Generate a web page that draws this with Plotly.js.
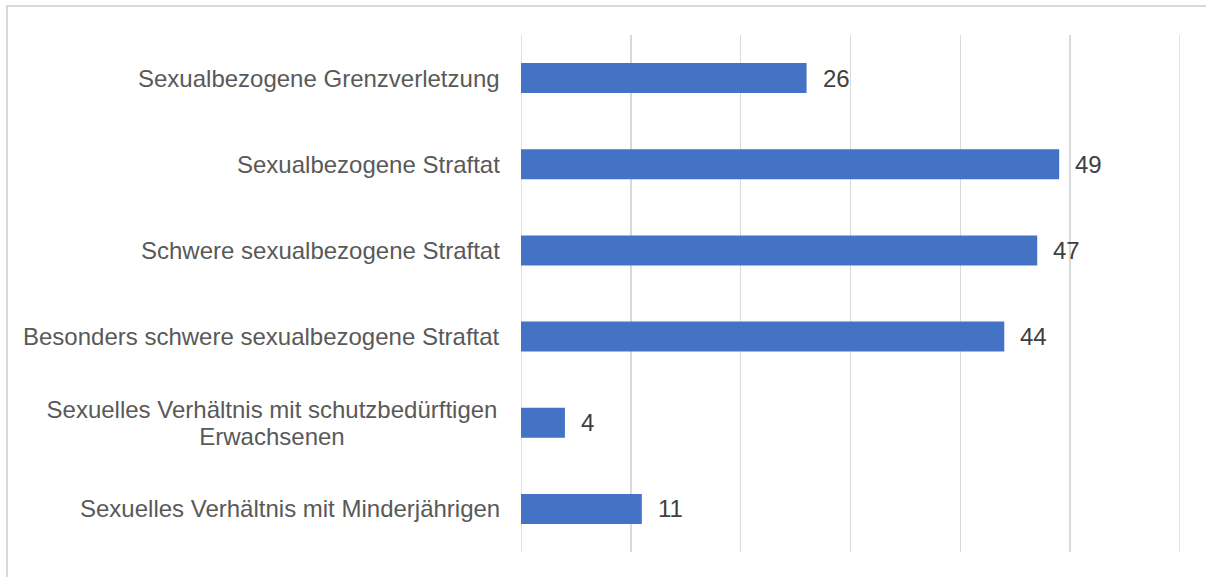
<!DOCTYPE html>
<html>
<head>
<meta charset="utf-8">
<script src="https://cdn.plot.ly/plotly-3.0.1.min.js"></script>
<style>
  html, body { margin: 0; padding: 0; background: #ffffff; overflow: hidden; }
  #chart { position: absolute; left: 0; top: 0; width: 1206px; height: 577px; }
  #frame { position: absolute; left: 6px; top: 5px; width: 1400px; height: 800px;
           border-left: 2px solid #d9d9d9; border-top: 2px solid #d9d9d9; pointer-events: none; }
</style>
</head>
<body>
<div id="chart"></div>
<div id="frame"></div>
<script>
const categories = [
  "Sexualbezogene Grenzverletzung",
  "Sexualbezogene Straftat",
  "Schwere sexualbezogene Straftat",
  "Besonders schwere sexualbezogene Straftat",
  "Sexuelles Verhältnis mit schutzbedürftigen<br>Erwachsenen",
  "Sexuelles Verhältnis mit Minderjährigen"
];
const values = [26, 49, 47, 44, 4, 11];
const xTicks = [0, 10, 20, 30, 40, 50, 60];

const font = "Liberation Sans, Arial, sans-serif";
const fontSize = 24;
const lineStep = 27;

const trace = {
  type: "bar",
  orientation: "h",
  x: values,
  y: categories,
  marker: { color: "#4472C4" },
  hoverinfo: "none"
};

const labelAnnotations = [];
categories.forEach(c => {
  const lines = c.split("<br>");
  lines.forEach((line, k) => {
    labelAnnotations.push({
      xref: "paper", yref: "y", x: 0, y: c,
      xanchor: "right", yanchor: "middle", xshift: -19,
      yshift: ((lines.length - 1) / 2 - k) * lineStep,
      text: line, showarrow: false, align: "center",
      width: lines.length > 1 ? 456 : null,
      font: { family: font, size: fontSize, color: "#595959" }
    });
  });
});

const valueAnnotations = values.map((v, i) => ({
  xref: "x", yref: "y", x: v, y: categories[i],
  xanchor: "left", yanchor: "middle", xshift: 14,
  text: String(v), showarrow: false,
  font: { family: font, size: fontSize, color: "#404040" }
}));

const edgeGrid = [xTicks[0], xTicks[xTicks.length - 1]].map(v => ({
  type: "line", xref: "x", yref: "paper", x0: v, x1: v, y0: 0, y1: 1,
  line: { color: "#d9d9d9", width: 1.5 }, layer: "below"
}));

const layout = {
  width: 1206, height: 577,
  margin: { l: 521, r: 26, t: 35, b: 25, pad: 0 },
  paper_bgcolor: "#ffffff", plot_bgcolor: "#ffffff",
  bargap: 0.652,
  showlegend: false,
  xaxis: {
    range: [0, 60], tickvals: xTicks, showticklabels: false,
    showgrid: true, gridcolor: "#d9d9d9", gridwidth: 1.5,
    zeroline: false, showline: false, ticks: "", fixedrange: true
  },
  yaxis: {
    autorange: "reversed", showticklabels: false, ticks: "",
    showgrid: false, zeroline: false, showline: false, fixedrange: true
  },
  shapes: edgeGrid,
  annotations: labelAnnotations.concat(valueAnnotations)
};

Plotly.newPlot("chart", [trace], layout, { displayModeBar: false, staticPlot: true });
</script>
</body>
</html>
